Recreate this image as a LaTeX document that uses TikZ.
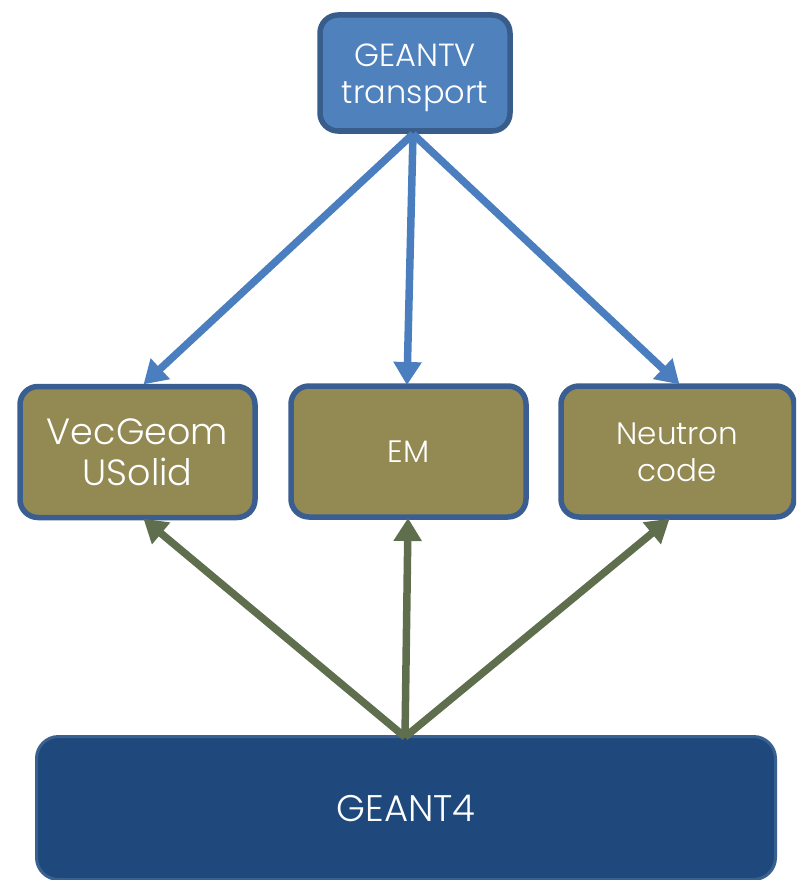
\documentclass[tikz,border=0pt]{standalone}
\usepackage{fontspec}
\setmainfont{Poppins Light}
\usetikzlibrary{arrows.meta}
\definecolor{topfill}{HTML}{4F81BD}
\definecolor{topline}{HTML}{385D8A}
\definecolor{midfill}{HTML}{938953}
\definecolor{midline}{HTML}{3A5E91}
\definecolor{botfill}{HTML}{1F497D}
\definecolor{botline}{HTML}{3A6090}
\definecolor{bluearrow}{HTML}{4A7EBF}
\definecolor{greenarrow}{HTML}{5F6F4E}
\tikzset{
  x=1pt, y=-1pt,
  box/.style={rounded corners=18pt, text=white, align=center, inner sep=0pt},
  topbox/.style={box, fill=topfill, draw=topline, line width=5.5pt},
  midbox/.style={box, fill=midfill, draw=midline, line width=5.5pt},
  botbox/.style={box, fill=botfill, draw=botline, line width=3pt, rounded corners=22pt},
  barrow/.style={draw=bluearrow, line width=7.5pt, -{Triangle[width=27pt,length=23pt]}, shorten >=-2pt},
  garrow/.style={draw=greenarrow, line width=7.5pt, -{Triangle[width=27pt,length=23pt]}, shorten >=-2pt},
}
\begin{document}
\begin{tikzpicture}
\useasboundingbox (0,0) rectangle (796,880);
\clip (0,0) rectangle (796,880);
\node[topbox, minimum width=190pt, minimum height=116pt, font=\fontsize{32}{37}\selectfont] (top) at (415,73) {\rule{0pt}{32pt}GEANTV\\transport};
\node[midbox, minimum width=235pt, minimum height=131pt, font=\fontsize{36.5}{41}\selectfont] (vec) at (137.5,452) {VecGeom\\USolid};
\node[midbox, minimum width=235pt, minimum height=131pt, font=\fontsize{31}{37}\selectfont] (em) at (408.5,451.5) {EM};
\node[midbox, minimum width=233pt, minimum height=131pt, font=\fontsize{31}{37}\selectfont] (neu) at (677.5,451.5) {\rule{0pt}{24pt}Neutron\\code};
\node[botbox, minimum width=739pt, minimum height=143pt, font=\fontsize{37}{44}\selectfont] (g4) at (406,808) {GEANT4};
\coordinate (ts) at (413,134);
\coordinate (vt) at (145,383);
\coordinate (et) at (407,383);
\coordinate (nt) at (678,383);
\coordinate (gs) at (405,737);
\coordinate (vb) at (145,520);
\coordinate (eb) at (408,520);
\coordinate (nb) at (668,520);
\draw[barrow] (ts) -- (vt);
\draw[barrow] (ts) -- (et);
\draw[barrow] (ts) -- (nt);
\draw[garrow] (gs) -- (vb);
\draw[garrow] (gs) -- (eb);
\draw[garrow] (gs) -- (nb);
\end{tikzpicture}
\end{document}
